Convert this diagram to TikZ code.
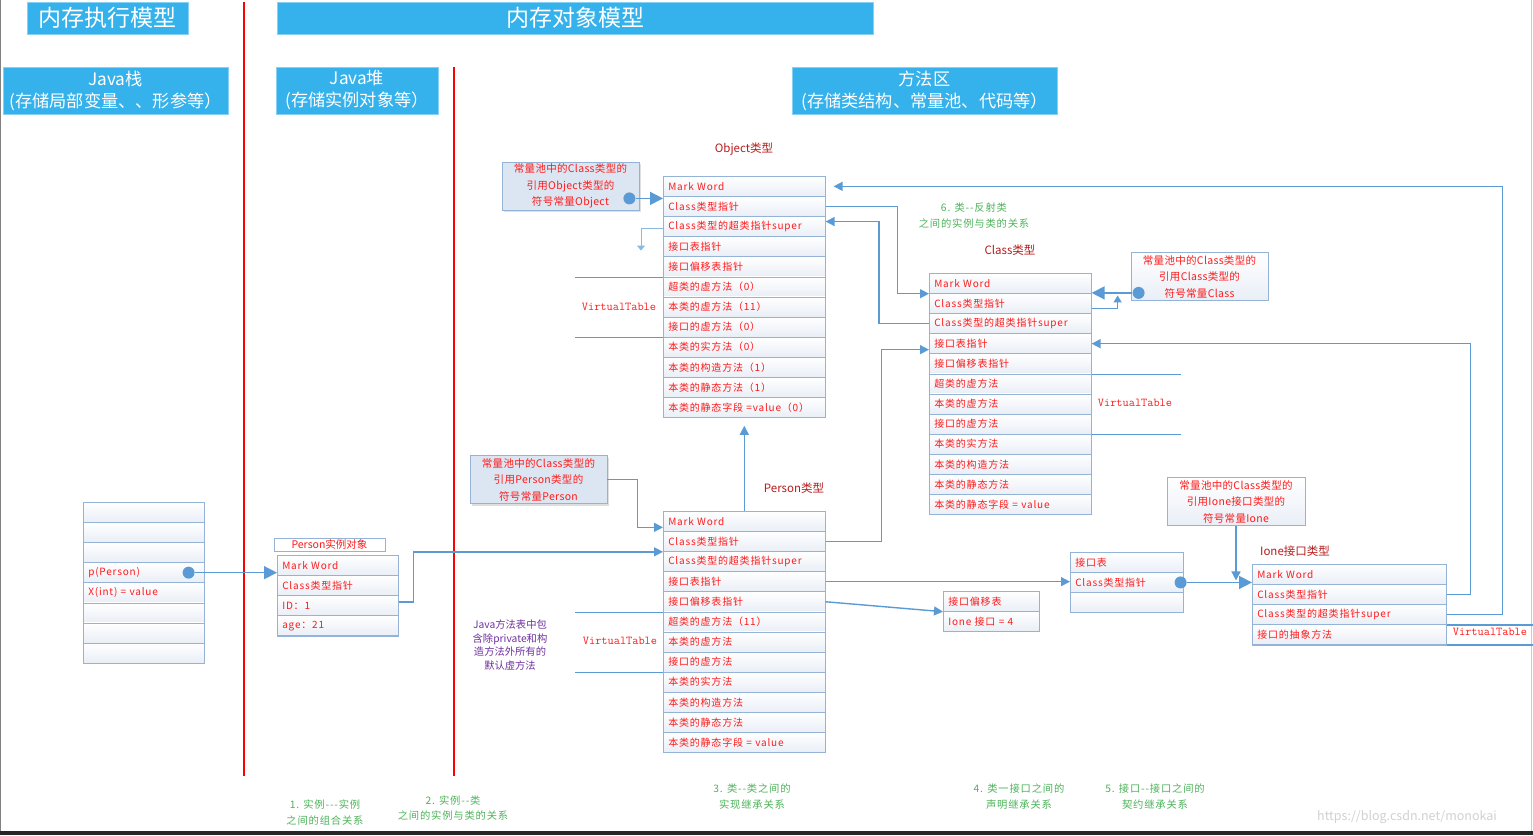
\documentclass[tikz,border=0pt]{standalone}
\usepackage{fontspec}
\setmainfont{Noto Sans CJK SC}
\newfontfamily\plainf{Noto Sans CJK SC}
\usetikzlibrary{arrows.meta,calc,shadows}
\definecolor{hdr}{HTML}{35B1EB}
\definecolor{cblue}{HTML}{5B9BD5}
\definecolor{tbord}{HTML}{95B3D7}
\definecolor{rowbot}{HTML}{E9EEF6}
\definecolor{txtred}{HTML}{FF1A1A}
\definecolor{dred}{HTML}{B81C1C}
\definecolor{grn}{HTML}{4DB25A}
\definecolor{purp}{HTML}{7030A0}
\definecolor{cbox}{HTML}{DCE6F2}
\newcommand{\tblfont}{\plainf\fontsize{10}{11}\selectfont\addfontfeature{LetterSpace=8}}
\newcommand{\mktable}[5]{%
  \pgfmathsetmacro\tw{#4-10}%
  \foreach \t [count=\i] in {#5} {%
    \node[row, text width=\tw pt] (#1-\i) at (#2,{#3+20.1*(\i-1)}) {\t};}%
}
\begin{document}
\begin{tikzpicture}[x=1pt,y=-1pt,
  hdrbox/.style={fill=hdr, draw=hdr!60!white, text=white, inner sep=0, align=center},
  row/.style={draw=tbord, line width=0.6pt, top color=white, bottom color=rowbot,
     minimum height=20.1pt, inner xsep=5pt, inner ysep=0pt, anchor=north west,
     align=left, text=txtred, font=\tblfont},
  outline/.style={draw=tbord, line width=1pt},
  cpool/.style={draw=tbord, line width=0.8pt, text=txtred, align=center,
     font=\plainf\fontsize{10.5}{16.5}\selectfont\addfontfeature{LetterSpace=3},
     minimum width=137pt, minimum height=48pt, inner sep=0pt},
  conn/.style={draw=cblue, line width=1.4pt},
  tipbig/.style={-{Triangle[length=13pt,width=13pt]}},
  tipsm/.style={-{Triangle[length=9pt,width=9pt]}},
  dot/.style={circle, fill=cblue, inner sep=0pt, minimum size=12pt},
  vtline/.style={draw=cblue, line width=1.2pt},
  vt/.style={text=txtred, font=\ttfamily\fontsize{12}{12}\selectfont, inner sep=0pt},
  lbl/.style={text=dred, font=\plainf\fontsize{11.5}{13}\selectfont, inner sep=0pt},
  gnote/.style={text=grn, align=center, font=\plainf\fontsize{10.3}{15.5}\selectfont\addfontfeature{LetterSpace=8}, inner sep=0pt},
  redline/.style={draw=red, line width=1.3pt}
]
\useasboundingbox (0,0) rectangle (1533,835);
\fill[white] (0,0) rectangle (1533,835);
\fill[black!85] (0,831) rectangle (1533,835);
\draw[black!50, line width=0.8pt] (0.4,0) -- (0.4,831);
\draw[black!20, line width=0.8pt] (1531,0) -- (1531,831);

% headers
\node[hdrbox, minimum width=161pt, minimum height=32pt, font=\fontsize{23}{25}\selectfont] (h1) at (107.5,18) {内存执行模型};
\node[hdrbox, minimum width=596pt, minimum height=32pt, font=\fontsize{23}{25}\selectfont] (h2) at (575,18) {内存对象模型};
\node[hdrbox, minimum width=225pt, minimum height=47pt, font=\fontsize{17.2}{22}\selectfont] (h3) at (115.5,90.5) {Java栈\\(存储局部变量、、形参等）};
\node[hdrbox, minimum width=162pt, minimum height=47pt, font=\fontsize{17.2}{22}\selectfont] (h4) at (357,90.5) {Java堆\\(存储实例对象等）};
\node[hdrbox, minimum width=265pt, minimum height=47pt, font=\fontsize{17.2}{22}\selectfont] (h5) at (924.5,90.5) {方法区\\(存储类结构、常量池、代码等）};

% red separators
\draw[redline] (244,2) -- (244,776);
\draw[redline] (454,67) -- (454,776);

% tables
\mktable{stk}{83}{502}{121}{{},{},{},{p(Person)},{X(int) = value},{},{},{}}
\draw[outline] (stk-1.north west) rectangle (stk-8.south east);

\node[draw=tbord, line width=0.8pt, text=txtred, font=\plainf\fontsize{10.5}{11}\selectfont, minimum width=111pt, minimum height=13pt, inner sep=0pt] (instlbl) at (329.5,544.5) {Person实例对象};
\mktable{inst}{277}{555}{121}{{Mark Word},{Class类型指针},{ID：1},{age：21}}
\draw[outline] (inst-1.north west) rectangle (inst-4.south east);

\mktable{obj}{663}{176}{162}{{Mark Word},{Class类型指针},{Class类型的超类指针super},{接口表指针},{接口偏移表指针},{超类的虚方法（0）},{本类的虚方法（11）},{接口的虚方法（0）},{本类的实方法（0）},{本类的构造方法（1）},{本类的静态方法（1）},{本类的静态字段 =value（0）}}
\draw[outline] (obj-1.north west) rectangle (obj-12.south east);

\mktable{per}{663}{511}{162}{{Mark Word},{Class类型指针},{Class类型的超类指针super},{接口表指针},{接口偏移表指针},{超类的虚方法（11）},{本类的虚方法},{接口的虚方法},{本类的实方法},{本类的构造方法},{本类的静态方法},{本类的静态字段 = value}}
\draw[outline] (per-1.north west) rectangle (per-12.south east);

\mktable{cls}{929}{273}{162}{{Mark Word},{Class类型指针},{Class类型的超类指针super},{接口表指针},{接口偏移表指针},{超类的虚方法},{本类的虚方法},{接口的虚方法},{本类的实方法},{本类的构造方法},{本类的静态方法},{本类的静态字段 = value}}
\draw[outline] (cls-1.north west) rectangle (cls-12.south east);

\mktable{itab}{1070}{552}{113}{{接口表},{Class类型指针},{}}
\draw[outline] (itab-1.north west) rectangle (itab-3.south east);

\mktable{ioff}{943}{591}{96}{{接口偏移表},{Ione 接口 = 4}}
\draw[outline] (ioff-1.north west) rectangle (ioff-2.south east);

\mktable{ione}{1252}{564}{194}{{Mark Word},{Class类型指针},{Class类型的超类指针super},{接口的抽象方法}}
\draw[outline] (ione-1.north west) rectangle (ione-4.south east);

% constant pool boxes
\node[cpool, fill=cbox, drop shadow={shadow xshift=2pt, shadow yshift=-2pt, opacity=0.25}] (oconst) at (570.5,186) {常量池中的Class类型的\\引用Object类型的\\符号常量Object};
\node[cpool, fill=cbox, drop shadow={shadow xshift=2pt, shadow yshift=-2pt, opacity=0.25}] (pconst) at (538.5,479.5) {常量池中的Class类型的\\引用Person类型的\\符号常量Person};
\node[cpool, top color=white, bottom color=rowbot] (cconst) at (1199.5,276.5) {常量池中的Class类型的\\引用Class类型的\\符号常量Class};
\node[cpool, top color=white, bottom color=rowbot, minimum width=138pt] (iconst) at (1236,501.5) {常量池中的Class类型的\\引用Ione接口类型的\\符号常量Ione};

% titles
\node[lbl] (otitle) at (744,149) {Object类型};
\node[lbl] (ctitle) at (1010,250) {Class类型};
\node[lbl] (ptitle) at (794,488) {Person类型};
\node[lbl] (ititle) at (1295,551) {Ione接口类型};

% virtual table markers
\draw[vtline] (obj-5.south west) -- ++(-88,0);
\draw[vtline] (obj-8.south west) -- ++(-88,0);
\node[vt] (ovt) at (619,307) {VirtualTable};
\draw[vtline] (per-5.south west) -- ++(-88,0);
\draw[vtline] (per-8.south west) -- ++(-88,0);
\node[vt] (pvt) at (620,641) {VirtualTable};
\draw[vtline] (cls-5.south east) -- ++(89,0);
\draw[vtline] (cls-8.south east) -- ++(89,0);
\node[vt] (cvt) at (1135,403) {VirtualTable};
\draw[vtline] (ione-3.south east) -- ++(87,0);
\draw[vtline] (ione-4.south east) -- ++(87,0);
\node[vt] (ivt) at (1490,632) {VirtualTable};

\node[text=purp, align=center, font=\plainf\fontsize{10.3}{13.8}\selectfont, inner sep=0pt] (pnote) at (510,645) {Java方法表中包\\含除private和构\\造方法外所有的\\默认虚方法};

% dots
\node[dot] (sdot) at ($(stk-4.east)+(-16,0)$) {};
\node[dot] (odot) at ($(oconst.south east)+(-10,-12)$) {};
\node[dot] (cdot) at ($(cconst.south west)+(8,-8)$) {};
\node[dot] (idot) at ($(itab-2.east)+(-3,0)$) {};

% connectors
\draw[conn,tipbig] (sdot) -- (sdot -| inst-1.west);
\draw[conn,tipbig] (odot) -- (odot -| obj-1.west);
\draw[conn,tipbig] (cdot) -- (cdot -| cls-1.east);
\draw[conn,tipbig] (idot) -- (idot -| ione-1.west);
\draw[conn,-{Triangle[length=7pt,width=8pt]}] ($(cls-2.east)+(0,5)$) -- ++(26,0) -- ++(0,-13);
\draw[conn,tipsm] (obj-2.east) -- ++(72,0) |- (cls-1.south west);
\draw[conn,tipsm] (cls-3.west) -- ++(-50,0) |- ($(obj-3.east)+(0,-5)$);
\draw[conn,tipsm] (per-2.east) -- ++(56,0) |- ($(cls-4.west)+(0,6)$);
\draw[conn,tipsm] (per-1.north) -- ($(obj-12.south)+(0,8)$);
\draw[conn,tipsm] (pconst.east) -- ++(30,0) |- ($(per-1.west)+(0,6)$);
\draw[conn,tipsm] ($(inst-2.south east)+(0,6)$) -- ++(15,0) |- (per-2.south west);
\draw[conn,tipsm] (per-4.east) -- (per-4.east -| itab-2.west);
\draw[conn,tipsm] (per-5.east) -- (ioff-1.south west);
\draw[conn,tipsm] (iconst.south) -- ($(iconst.south |- idot)+(0,-2)$);
\draw[conn,tipsm] (ione-2.east) -- ++(24,0) |- (cls-4.east);
\draw[conn,tipsm] (ione-3.east) -- ++(56,0) |- ($(obj-1.east)+(8,0)$);
\draw[draw=cblue!70, line width=1pt, -{Triangle[length=5pt,width=8pt]}] ($(obj-3.west)+(0,2)$) -- ++(-22,0) -- ++(0,22);

% green notes
\node[gnote] (n1) at (325,812.5) {1. 实例---实例\\之间的组合关系};
\node[gnote] (n2) at (453,808) {2. 实例--类\\之间的实例与类的关系};
\node[gnote] (n3) at (752,796.5) {3. 类--类之间的\\实现继承关系};
\node[gnote] (n4) at (1019,796.5) {4. 类一接口之间的\\声明继承关系};
\node[gnote] (n5) at (1155,796.5) {5. 接口--接口之间的\\契约继承关系};
\node[gnote] (n6) at (974,215.5) {6. 类--反射类\\之间的实例与类的关系};

\node[text=black!18, font=\fontsize{12.5}{14}\selectfont, inner sep=0pt] (wm) at (1407,817) {https://blog.csdn.net/monokai};
\end{tikzpicture}
\end{document}
